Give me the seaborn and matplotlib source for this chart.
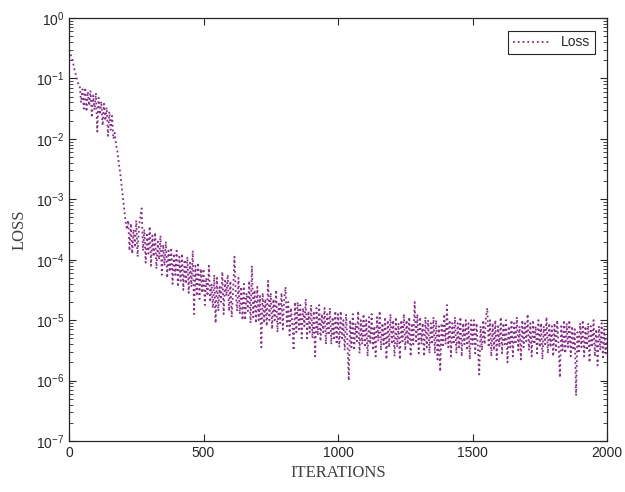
import numpy as np
import matplotlib
matplotlib.use("Agg")
import matplotlib.pyplot as plt
import seaborn as sns

# iteration step between the read-off samples
step = 5
# log10(loss), one value every 5 iterations
loss_log10_0_495 = [
    -0.53, -0.58, -0.66, -0.74, -0.85, -0.93, -1.02, -1.10, -1.12, -1.40,
    -1.18, -1.50, -1.15, -1.55, -1.22, -1.45, -1.20, -1.65, -1.28, -1.52,
    -1.24, -1.88, -1.32, -1.60, -1.38, -1.78, -1.42, -1.70, -1.48, -1.95,
    -1.55, -1.85, -1.62, -2.00, -1.90, -2.10, -2.20, -2.40, -2.55, -2.75,
    -2.95, -3.15, -3.35, -3.50, -3.35, -3.85, -3.40, -3.90, -3.50, -3.80,
    -3.35, -3.95, -3.45, -3.30, -3.15, -3.85, -3.50, -4.05, -3.55, -3.90,
    -3.45, -4.10, -3.60, -3.95, -3.55, -4.15, -3.70, -4.00, -3.60, -4.25,
    -3.75, -4.10, -3.70, -4.30, -3.85, -4.20, -3.80, -4.40, -3.90, -4.25,
    -3.85, -4.45, -3.95, -4.35, -3.90, -4.50, -4.00, -4.40, -3.95, -4.55,
    -4.05, -4.45, -3.85, -4.90, -4.10, -4.60, -4.05, -4.65, -4.15, -4.55,
]
loss_log10_500_995 = [
    -4.15, -4.75, -4.30, -4.60, -4.10, -4.70, -4.40, -4.80, -4.25, -5.05,
    -4.30, -4.85, -4.45, -4.70, -4.20, -4.90, -4.35, -4.60, -4.25, -4.85,
    -4.35, -4.95, -4.50, -3.95, -4.55, -4.85, -4.30, -4.90, -4.45, -5.00,
    -4.40, -5.00, -4.55, -4.85, -4.35, -5.05, -4.10, -4.95, -4.50, -5.05,
    -4.45, -5.00, -4.60, -5.45, -4.55, -5.05, -4.65, -5.10, -4.35, -5.00,
    -4.55, -5.15, -4.65, -5.00, -4.50, -5.20, -4.70, -5.05, -4.55, -5.15,
    -4.65, -4.45, -5.10, -4.70, -5.25, -4.80, -5.05, -5.50, -4.70, -5.20,
    -4.70, -5.15, -4.75, -5.30, -4.80, -5.10, -4.65, -5.30, -4.85, -5.20,
    -4.75, -5.30, -4.85, -5.60, -4.80, -5.25, -4.75, -5.35, -4.90, -5.20,
    -4.80, -5.40, -4.90, -5.25, -4.80, -5.40, -4.95, -5.30, -4.85, -5.40,
]
loss_log10_1000_1495 = [
    -4.90, -5.45, -4.85, -5.30, -5.00, -5.50, -4.90, -5.35, -6.00, -5.00,
    -5.45, -4.90, -5.50, -5.05, -5.35, -4.85, -5.55, -5.00, -5.40, -4.90,
    -5.45, -5.00, -5.60, -4.95, -5.40, -4.90, -5.50, -5.10, -5.60, -4.95,
    -5.35, -4.85, -5.50, -5.05, -5.40, -4.95, -5.65, -5.00, -5.45, -4.90,
    -5.40, -5.00, -5.60, -4.95, -5.45, -5.05, -5.65, -5.00, -5.35, -4.90,
    -5.50, -5.00, -5.40, -4.95, -5.60, -5.05, -5.40, -4.70, -5.35, -4.90,
    -5.55, -4.95, -5.40, -5.05, -5.60, -4.95, -5.45, -5.00, -5.55, -5.05,
    -5.40, -4.95, -5.55, -5.00, -5.65, -5.10, -5.85, -5.05, -5.45, -4.90,
    -5.40, -4.75, -5.45, -5.00, -5.60, -5.05, -5.40, -4.95, -5.55, -5.05,
    -5.45, -4.95, -5.60, -5.05, -5.40, -5.00, -5.50, -5.05, -5.65, -5.00,
]
loss_log10_1500_2000 = [
    -5.40, -5.00, -5.55, -5.05, -5.45, -5.90, -5.10, -5.50, -5.00, -5.40,
    -4.95, -4.80, -5.45, -5.00, -5.60, -5.05, -5.50, -5.00, -5.65, -5.10,
    -5.45, -4.95, -5.55, -5.05, -5.40, -5.00, -5.70, -5.10, -5.45, -5.00,
    -5.60, -5.05, -5.40, -4.95, -5.50, -5.10, -5.65, -5.00, -5.45, -5.05,
    -5.35, -4.90, -5.50, -5.05, -5.60, -5.00, -5.40, -5.10, -5.55, -5.00,
    -5.45, -5.05, -5.65, -5.10, -5.40, -4.95, -5.55, -5.05, -5.45, -5.10,
    -5.60, -5.05, -5.50, -5.00, -5.40, -5.95, -5.10, -5.50, -5.00, -5.55,
    -5.05, -5.45, -5.00, -5.60, -5.10, -5.50, -5.15, -6.25, -5.20, -5.55,
    -5.05, -5.45, -5.00, -5.60, -5.10, -5.50, -5.05, -5.70, -5.10, -5.45,
    -5.00, -5.60, -5.15, -5.75, -5.10, -5.50, -5.05, -5.65, -5.15, -5.55,
    -5.30,
]
loss_log10 = (loss_log10_0_495 + loss_log10_500_995
              + loss_log10_1000_1495 + loss_log10_1500_2000)
iterations = np.arange(len(loss_log10)) * step
loss = 10.0 ** np.array(loss_log10)

x_ticks = [0, 500, 1000, 1500, 2000]
line_color = "#8B2A8D"

sns.set_style("ticks")
plt.rcParams["font.family"] = ["Liberation Sans", "DejaVu Sans"]
plt.rcParams["mathtext.fontset"] = "custom"
plt.rcParams["mathtext.rm"] = "Liberation Sans"
plt.rcParams["mathtext.it"] = "Liberation Sans:italic"

fig = plt.figure(figsize=(6.25, 4.92), dpi=100)
ax = fig.add_axes([0.1104, 0.1037, 0.8608, 0.8597])

sns.lineplot(x=iterations, y=loss, ax=ax, color=line_color, linestyle=":",
             linewidth=1.3, label="Loss", sort=False, estimator=None)

ax.set_yscale("log")
ax.set_xlim(0, 2000)
ax.set_ylim(1e-7, 1)
ax.set_xticks(x_ticks)
ax.set_yticks([10.0 ** k for k in range(-7, 1)])

for side in ["top", "right", "bottom", "left"]:
    ax.spines[side].set_visible(True)
    ax.spines[side].set_color("#262626")
    ax.spines[side].set_linewidth(0.9)

ax.tick_params(which="both", direction="in", top=True, right=True,
               colors="#262626", labelcolor="#262626", labelsize=10)
ax.tick_params(which="major", length=5, width=0.8)
ax.tick_params(which="minor", length=3, width=0.6)
ax.tick_params(axis="x", which="minor", top=False, bottom=False)

label_font = dict(family=["Liberation Serif", "DejaVu Serif"], size=12,
                  color="#404040")
ax.set_xlabel("ITERATIONS", fontdict=label_font, labelpad=4)
ax.set_ylabel("LOSS", fontdict=label_font, labelpad=6)

leg = ax.legend(loc="upper right", fontsize=10, fancybox=False,
                edgecolor="#262626", framealpha=1, borderaxespad=0.9,
                handlelength=2.6, borderpad=0.35)
leg.get_frame().set_linewidth(0.8)

fig.savefig("out.png", dpi=100)
